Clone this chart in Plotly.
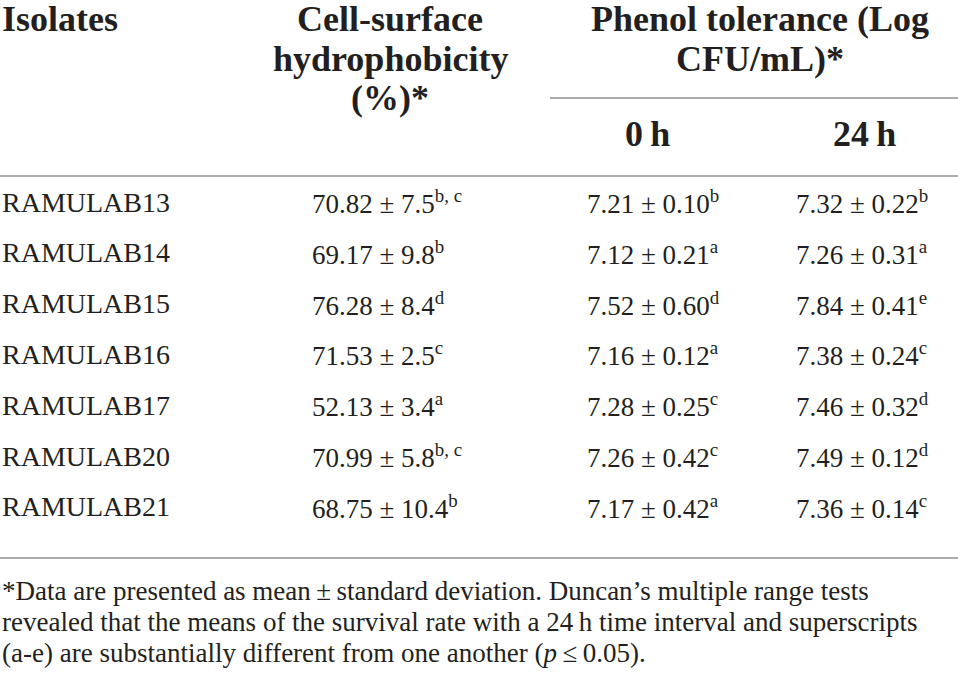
import plotly.graph_objects as go

isolates = ["RAMULAB13", "RAMULAB14", "RAMULAB15", "RAMULAB16", "RAMULAB17", "RAMULAB20", "RAMULAB21"]
hydro_mean = [70.82, 69.17, 76.28, 71.53, 52.13, 70.99, 68.75]
hydro_sd = [7.5, 9.8, 8.4, 2.5, 3.4, 5.8, 10.4]
hydro_sup = ["b, c", "b", "d", "c", "a", "b, c", "b"]
p0_mean = [7.21, 7.12, 7.52, 7.16, 7.28, 7.26, 7.17]
p0_sd = [0.10, 0.21, 0.60, 0.12, 0.25, 0.42, 0.42]
p0_sup = ["b", "a", "d", "a", "c", "c", "a"]
p24_mean = [7.32, 7.26, 7.84, 7.38, 7.46, 7.49, 7.36]
p24_sd = [0.22, 0.31, 0.41, 0.24, 0.32, 0.12, 0.14]
p24_sup = ["b", "a", "e", "c", "d", "d", "c"]

header_isolates = "Isolates"
header_hydro = ["Cell-surface", "hydrophobicity", "(%)*"]
header_phenol = ["Phenol tolerance (Log", "CFU/mL)*"]
header_times = ["0\u2009h", "24\u2009h"]
footnote = [
    "*Data are presented as mean\u2009\u00b1\u2009standard deviation. Duncan\u2019s multiple range tests",
    "revealed that the means of the survival rate with a 24\u2009h time interval and superscripts",
    "(a-e) are substantially different from one another (<i>p</i>\u2009\u2264\u20090.05).",
]

W, H = 958, 680
TXT = "#231f20"
RULE = "#8f8f8f"
SERIF = "Liberation Serif"

fig = go.Figure()
ann = []

def add(text, x, y, size, bold=False, xanchor="left"):
    ann.append(dict(
        text=("<b>%s</b>" % text) if bold else text,
        x=x, y=y, xref="x", yref="y", xanchor=xanchor, yanchor="middle",
        showarrow=False, font=dict(family=SERIF, size=size, color=TXT),
    ))

HS = 36
add(header_isolates, 0, 19, HS, bold=True)
for i, t in enumerate(header_hydro):
    add(t, 390, 19 + 39.5 * i, HS, bold=True, xanchor="center")
for i, t in enumerate(header_phenol):
    add(t, 760, 19 + 39.5 * i, HS, bold=True, xanchor="center")
add(header_times[0], 647, 134, HS, bold=True, xanchor="center")
add(header_times[1], 864, 134, HS, bold=True, xanchor="center")

row_y0, pitch = 202, 50.8
for i, name in enumerate(isolates):
    y = row_y0 + pitch * i
    add(name, 0, y, 28)
    add("%.2f \u00b1 %.1f<sup>%s</sup>" % (hydro_mean[i], hydro_sd[i], hydro_sup[i]), 310, y, 27)
    add("%.2f \u00b1 %.2f<sup>%s</sup>" % (p0_mean[i], p0_sd[i], p0_sup[i]), 585, y, 27)
    add("%.2f \u00b1 %.2f<sup>%s</sup>" % (p24_mean[i], p24_sd[i], p24_sup[i]), 794, y, 27)

for i, t in enumerate(footnote):
    add(t, 0, 591 + 30.8 * i, 27)

shapes = [
    dict(type="line", xref="x", yref="y", x0=550, x1=W, y0=98, y1=98, line=dict(color=RULE, width=1.5)),
    dict(type="line", xref="x", yref="y", x0=0, x1=W, y0=176, y1=176, line=dict(color=RULE, width=1.5)),
    dict(type="line", xref="x", yref="y", x0=0, x1=W, y0=558, y1=558, line=dict(color=RULE, width=1.5)),
]

fig.update_layout(
    width=W, height=H, margin=dict(l=0, r=0, t=0, b=0),
    paper_bgcolor="white", plot_bgcolor="white",
    xaxis=dict(range=[0, W], visible=False, fixedrange=True),
    yaxis=dict(range=[H, 0], visible=False, fixedrange=True),
    annotations=ann, shapes=shapes, showlegend=False,
)
fig.write_html(
    "out.html",
    config={"displayModeBar": False, "staticPlot": True},
    post_script="document.body.style.margin='0px';document.body.style.overflow='hidden';",
)
